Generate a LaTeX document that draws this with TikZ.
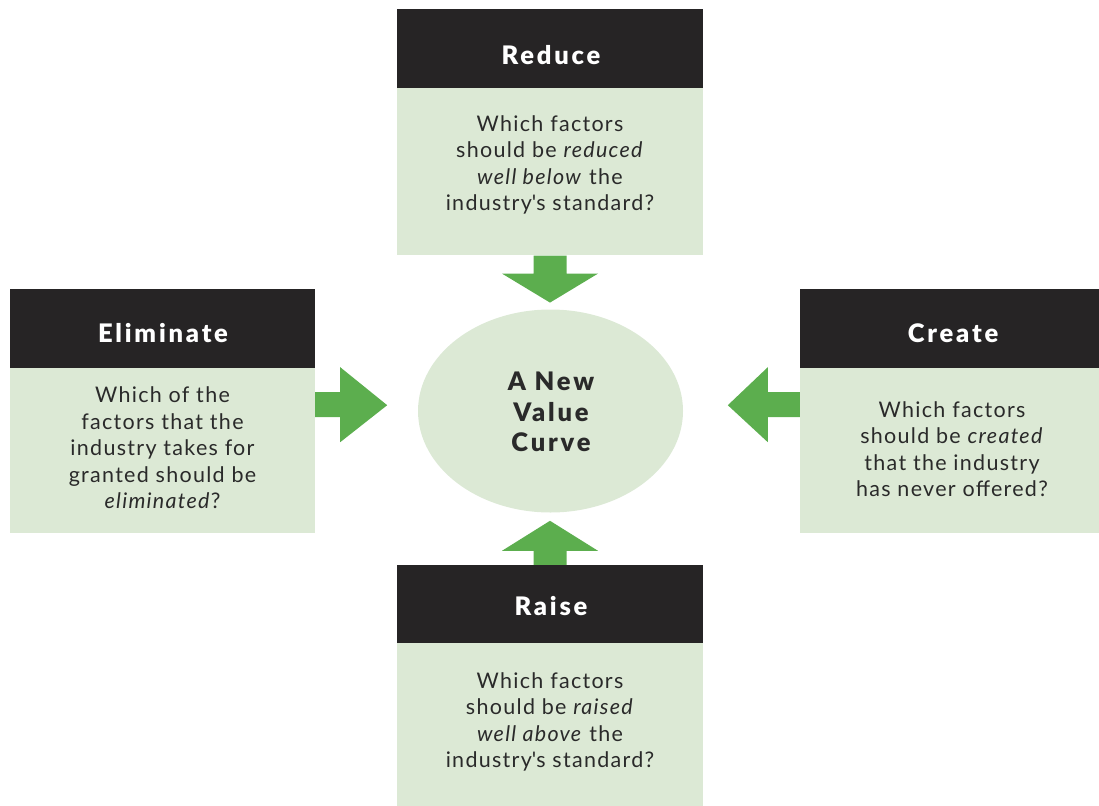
\documentclass[tikz,border=0pt]{standalone}
\usepackage{fontspec}
\setmainfont{Lato}
\newfontfamily\bodyfont[LetterSpace=6]{Lato}
\IfFontExistsTF{Lato Black}{%
  \newfontfamily\heavyfont[LetterSpace=11]{Lato Black}}{%
  \newfontfamily\heavyfontbase[LetterSpace=13]{Lato}\newcommand\heavyfont{\heavyfontbase\bfseries}}
\usetikzlibrary{calc,shapes.geometric}
\definecolor{hdr}{HTML}{262425}
\definecolor{bodyc}{HTML}{DCE9D5}
\definecolor{arrc}{HTML}{5CAE4E}
\definecolor{txt}{HTML}{2A2A2A}
\tikzset{
  hdrbox/.style={fill=hdr, draw=none, minimum width=306pt, minimum height=79pt, inner sep=0pt},
  hdrtext/.style={anchor=base, inner sep=0pt, text=white, font=\fontsize{25.5}{28}\heavyfont},
  bodybox/.style={fill=bodyc, draw=none, minimum width=306pt, inner sep=0pt},
  bodytext/.style={align=center, text=txt, font=\fontsize{21.5}{26.5}\bodyfont, inner sep=0pt},
  arrowfill/.style={fill=arrc, draw=none},
}
\begin{document}
\begin{tikzpicture}[x=1pt,y=-1pt]
\useasboundingbox (0,0) rectangle (1099,805);
% centre ellipse
\node[ellipse, fill=bodyc, minimum width=265pt, minimum height=203pt, inner sep=0pt] (curve) at (550.5,411) {};
\node[align=center, inner sep=0pt, font=\fontsize{25.5}{30.5}\heavyfont, text=txt] (curvet) at (551,412) {A New\\Value\\Curve};
% Reduce
\node[hdrbox] (redh) at (550,48.5) {};
\node[hdrtext] (redl) at (551,65) {Reduce};
\node[bodybox, minimum height=167pt, anchor=north] (redb) at (redh.south) {};
\node[bodytext] (redt) at (550,165) {Which factors\\should be \textit{reduced}\\\textit{well below} the\\industry\textquotesingle s standard?};
% Eliminate
\node[hdrbox, minimum width=305pt] (elih) at (162.5,328.5) {};
\node[hdrtext] (elil) at (163,342) {Eliminate};
\node[bodybox, minimum width=305pt, minimum height=165pt, anchor=north] (elib) at (elih.south) {};
\node[bodytext] (elit) at (162.5,448) {Which of the\\factors that the\\industry takes for\\granted should be\\\textit{eliminated}?};
% Create
\node[hdrbox, minimum width=299pt] (creh) at (949.5,328.5) {};
\node[hdrtext] (crel) at (953,342) {Create};
\node[bodybox, minimum width=299pt, minimum height=165pt, anchor=north] (creb) at (creh.south) {};
\node[bodytext] (cret) at (952,449) {Which factors\\should be \textit{created}\\that the industry\\has never offered?};
% Raise
\node[hdrbox, minimum height=78pt] (raih) at (550,604) {};
\node[hdrtext] (rail) at (551,615) {Raise};
\node[bodybox, minimum height=163pt, anchor=north] (raib) at (raih.south) {};
\node[bodytext] (rait) at (550,722) {Which factors\\should be \textit{raised}\\\textit{well above} the\\industry\textquotesingle s standard?};
% arrows
\fill[arrowfill] ($(redb.south)+(-16.5,0)$) -- ++(0,18) -- ++(-31.5,0) -- ($(redb.south)+(0,47)$) -- ($(redb.south)+(48,18)$) -- ++(-31.5,0) -- ($(redb.south)+(16.5,0)$) -- cycle;
\fill[arrowfill] ($(raih.north)+(-16.5,0)$) -- ++(0,-14) -- ++(-31.5,0) -- ($(raih.north)+(0,-44)$) -- ($(raih.north)+(48,-14)$) -- ++(-31.5,0) -- ($(raih.north)+(16.5,0)$) -- cycle;
\coordinate (eA) at (elib.north east);
\fill[arrowfill] ($(eA)+(0,24)$) -- ++(25,0) -- ++(0,-25) -- ($(eA)+(72,37)$) -- ($(eA)+(25,74)$) -- ++(0,-25) -- ($(eA)+(0,49)$) -- cycle;
\coordinate (cA) at (creb.north west);
\fill[arrowfill] ($(cA)+(0,24)$) -- ++(-32,0) -- ++(0,-25) -- ($(cA)+(-72,37)$) -- ($(cA)+(-32,74)$) -- ++(0,-25) -- ($(cA)+(0,49)$) -- cycle;
\end{tikzpicture}
\end{document}
